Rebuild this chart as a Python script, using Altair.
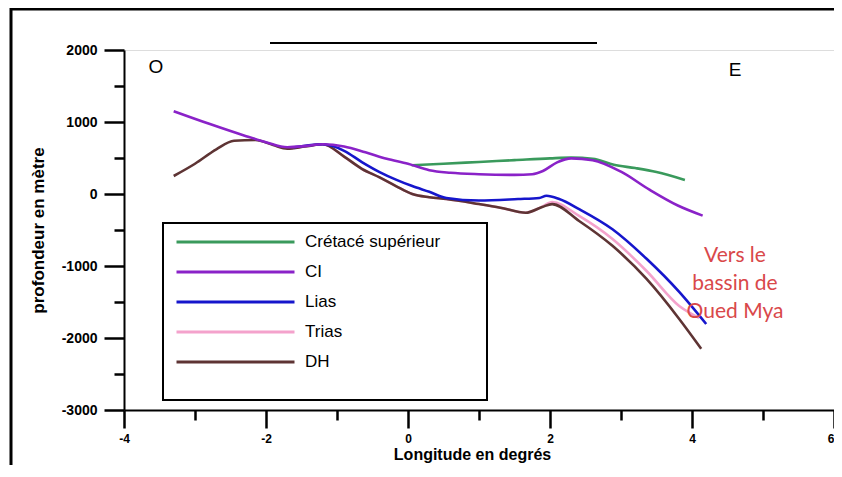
import altair as alt
import pandas as pd

# ---------------- data ----------------
series_names = ["Crétacé supérieur", "CI", "Lias", "Trias", "DH"]
series_colors = ["#3a9a5c", "#8a22c8", "#1616cc", "#f4a2cc", "#5e3434"]

cret_x = [0.05, 0.5, 1.0, 1.5, 2.0, 2.3, 2.6, 2.9, 3.2, 3.5, 3.9]
cret_y = [400, 420, 445, 470, 495, 505, 490, 405, 360, 305, 195]

ci_x = [-3.3, -2.8, -2.3, -2.0, -1.7, -1.45, -1.2, -0.9, -0.6, -0.3, 0.0, 0.3, 0.6,
        1.0, 1.5, 1.75, 1.9, 2.1, 2.3, 2.6, 3.0, 3.4, 3.8, 4.15]
ci_y = [1150, 975, 810, 720, 650, 665, 690, 660, 580, 490, 420, 330, 295,
        275, 265, 275, 320, 440, 495, 470, 310, 60, -160, -300]

lias_x = [-1.6, -1.2, -0.9, -0.65, -0.4, -0.17, 0.06, 0.3, 0.54, 1.0, 1.55, 1.85,
          1.95, 2.13, 2.41, 2.88, 3.36, 3.82, 4.2]
lias_y = [650, 690, 600, 444, 305, 200, 110, 30, -55, -90, -70, -55,
          -25, -70, -210, -490, -900, -1360, -1806]

trias_x = [-1.6, -1.2, -0.9, -0.65, -0.4, -0.17, 0.06, 0.3, 0.54, 1.0, 1.3, 1.66,
           1.89, 2.03, 2.41, 2.88, 3.36, 3.82, 4.1]
trias_y = [640, 690, 520, 350, 230, 110, 0, -45, -70, -140, -190, -260,
           -175, -111, -305, -625, -1069, -1555, -1720]

dh_x = [-3.3, -3.0, -2.7, -2.45, -2.15, -1.9, -1.7, -1.45, -1.2, -0.9, -0.65, -0.4,
        -0.17, 0.06, 0.3, 0.54, 1.0, 1.3, 1.66, 1.89, 2.03, 2.41, 2.88, 3.36, 3.82, 4.13]
dh_y = [250, 420, 620, 740, 750, 680, 630, 660, 690, 520, 350, 230,
        110, 0, -45, -70, -140, -190, -260, -180, -140, -375, -720, -1180, -1735, -2150]

x_ticks = list(range(-4, 7))
y_ticks = list(range(-3000, 2001, 500))

label_west = ["O"]
label_east = ["E"]
label_basin = ["Vers le\nbassin de\nOued Mya"]

# ---------------- table ----------------
rows = []
for name, xs, ys in [("Crétacé supérieur", cret_x, cret_y), ("CI", ci_x, ci_y),
                     ("Lias", lias_x, lias_y), ("Trias", trias_x, trias_y),
                     ("DH", dh_x, dh_y)]:
    for x, y in zip(xs, ys):
        rows.append({"serie": name, "lon": x, "prof": y})
df = pd.DataFrame(rows)

W, H = 710, 360
FONT = "Arial, Liberation Sans, sans-serif"

x_enc = alt.X(
    "lon:Q",
    scale=alt.Scale(domain=[-4, 6], nice=False, zero=False),
    axis=alt.Axis(
        values=x_ticks,
        labelExpr="datum.value % 2 === 0 ? '' + datum.value : ''",
        labelFlush=False,
        labelAlign={"condition": {"test": "datum.value === 6", "value": "right"}, "value": "center"},
        tickSize={"condition": {"test": "datum.value % 2 === 0", "value": 18}, "value": 10},
        tickWidth=2.5, tickColor="black", domainColor="black", domainWidth=2,
        labelFont=FONT, labelFontWeight="bold", labelFontSize=12, labelColor="black",
        labelPadding=5, grid=False,
        title="Longitude en degrés", titleFont=FONT, titleFontSize=16,
        titleFontWeight="bold", titleColor="black", titlePadding=2,
        titleX=348,
    ),
)
y_enc = alt.Y(
    "prof:Q",
    scale=alt.Scale(domain=[-3000, 2000], nice=False, zero=False),
    axis=alt.Axis(
        values=y_ticks,
        labelExpr="datum.value % 1000 === 0 ? '' + datum.value : ''",
        labelFlush=False,
        tickSize={"condition": {"test": "datum.value % 1000 === 0", "value": 20}, "value": 10},
        tickWidth=2.5, tickColor="black", domainColor="black", domainWidth=2,
        labelFont=FONT, labelFontWeight="bold", labelFontSize=14, labelColor="black",
        labelPadding=7, grid=False,
        title="profondeur en mètre", titleFont=FONT, titleFontSize=17,
        titleFontWeight="bold", titleColor="black", titlePadding=14,
    ),
)
color_enc = alt.Color(
    "serie:N",
    scale=alt.Scale(domain=series_names, range=series_colors),
    sort=series_names,
    legend=alt.Legend(
        title=None, orient="none", legendX=51, legendY=177, padding=0,
        symbolType="stroke", symbolSize=13924, symbolStrokeWidth=3,
        clipHeight=30, rowPadding=0, labelOffset=9,
        labelFont=FONT, labelFontSize=17, labelColor="black", labelBaseline="middle",
    ),
)

base = alt.Chart(df)
draw_order = ["Trias", "DH", "Lias", "Crétacé supérieur", "CI"]
lines = [
    base.transform_filter(alt.datum.serie == s)
    .mark_line(strokeWidth=2.6, interpolate="monotone")
    .encode(x=x_enc, y=y_enc, color=color_enc)
    for s in draw_order
]

one = pd.DataFrame({"k": [0]})

legend_box = alt.Chart(one).mark_rect(fill="white", stroke="black", strokeWidth=2).encode(
    x=alt.value(39), x2=alt.value(363), y=alt.value(173), y2=alt.value(350)
)

frame = alt.Chart(one).mark_rect(fill=None, stroke="black", strokeWidth=3).encode(
    x=alt.value(-113), x2=alt.value(760), y=alt.value(-41), y2=alt.value(440)
)

top_line = alt.Chart(one).mark_rule(stroke="black", strokeWidth=2).encode(
    x=alt.value(146), x2=alt.value(473), y=alt.value(-7)
)

txt_w = alt.Chart(pd.DataFrame({"t": label_west})).mark_text(
    font=FONT, fontSize=19, color="black", align="center", baseline="middle"
).encode(x=alt.value(32), y=alt.value(17), text="t:N")

txt_e = alt.Chart(pd.DataFrame({"t": label_east})).mark_text(
    font=FONT, fontSize=19, color="black", align="center", baseline="middle"
).encode(x=alt.value(611), y=alt.value(20), text="t:N")

txt_b = alt.Chart(pd.DataFrame({"t": label_basin})).mark_text(
    font="Lato, Open Sans, sans-serif", fontSize=21, color="#d9484a", align="center",
    baseline="middle", lineBreak="\n", lineHeight=28
).encode(x=alt.value(611), y=alt.value(206), text="t:N")

chart = alt.layer(
    frame, top_line, legend_box, *lines, txt_w, txt_e, txt_b
).properties(
    width=W, height=H,
    autosize=alt.AutoSizeParams(type="none"),
    padding={"left": 116, "top": 42, "right": 0, "bottom": 55},
).configure_view(stroke=None).configure(background="white")

chart.save("out.html", embed_options={"renderer": "svg", "actions": False})
